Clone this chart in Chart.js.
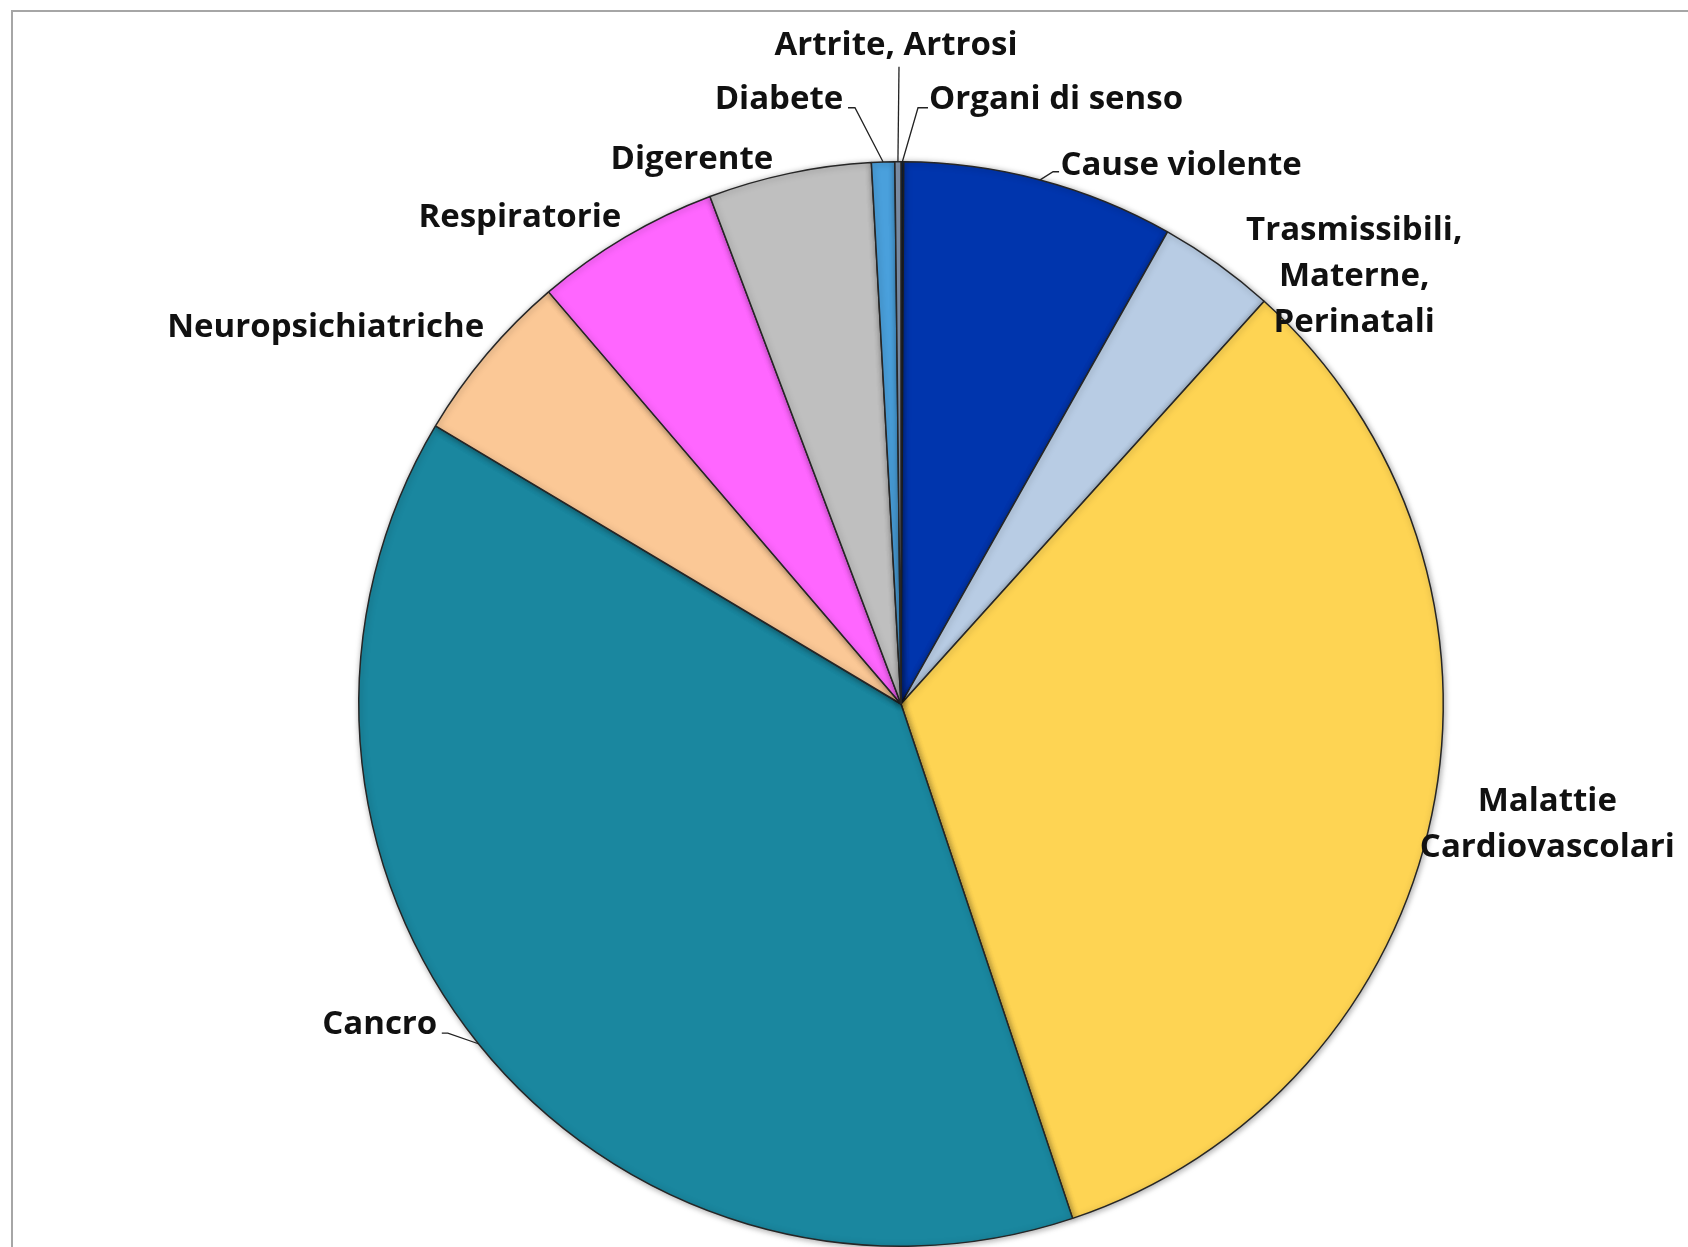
<!DOCTYPE html>
<html lang="it">
<head>
  <meta charset="UTF-8" />
  <title>Cause di morte</title>
  <script src="https://cdn.jsdelivr.net/npm/chart.js"></script>
  <style>
    html, body {
      margin: 0;
      padding: 0;
      background: #ffffff;
      overflow: hidden;
    }

    #frame {
      position: absolute;
      left: 11px;
      top: 10px;
      width: 1720px;
      height: 1300px;
      border-left: 2px solid #a6a6a6;
      border-top: 2px solid #a6a6a6;
      box-sizing: border-box;
    }

    #chart {
      position: absolute;
      left: 0;
      top: 0;
    }
  </style>
</head>
<body>
  <div id="frame"></div>
  <canvas id="chart" width="1688" height="1260"></canvas>

  <script>
    // Dati (percentuali, in senso orario da ore 12)
    const categorie = [
      'Organi di senso', 'Cause violente', 'Trasmissibili, Materne, Perinatali',
      'Malattie Cardiovascolari', 'Cancro', 'Neuropsichiatriche',
      'Respiratorie', 'Digerente', 'Diabete', 'Artrite, Artrosi'
    ];
    const valori = [0.08, 8.1, 3.5, 33.2, 38.7, 5.17, 5.53, 4.86, 0.69, 0.18];
    const colori = [
      '#17375e', '#0035ad', '#b8cce4', '#fed453', '#1a879f',
      '#fbc896', '#ff66ff', '#bfbfbf', '#4aa0dc', '#8497b0'
    ];

    // Testo delle etichette (righe)
    const righeEtichette = [
      ['Organi di senso'], ['Cause violente'], ['Trasmissibili,', 'Materne,', 'Perinatali'],
      ['Malattie', 'Cardiovascolari'], ['Cancro'], ['Neuropsichiatriche'],
      ['Respiratorie'], ['Digerente'], ['Diabete'], ['Artrite, Artrosi']
    ];

    // Posizione delle etichette rispetto al centro della torta (px, raggio di riferimento 542)
    const posEtichette = [
      [155, -604], [280, -538], [453, -427], [646, 121], [-521, 320],
      [-575, -376], [-381, -486], [-209, -544], [-122, -604], [-5, -658]
    ];
    // Linee guida: [x0, y0, x1, y1] poi fino al bordo della fetta
    const guide = [
      [27, -596, 17, -596], [158, -532, 152, -532], null, null, [-459, 329, -453, 329],
      null, null, null, [-53, -596, -46, -596], [-2, -637, -2, -637]
    ];

    const RAGGIO_RIF = 542;

    const etichettePlugin = {
      id: 'etichette',
      afterDatasetsDraw(chart) {
        const ctx = chart.ctx;
        const arcs = chart.getDatasetMeta(0).data;
        ctx.save();
        ctx.shadowColor = 'transparent';
        arcs.forEach((arc, i) => {
          const cx = arc.x, cy = arc.y, r = arc.outerRadius;
          const k = r / RAGGIO_RIF;
          const g = guide[i];
          if (g) {
            const mid = (arc.startAngle + arc.endAngle) / 2;
            const ex = cx + Math.cos(mid) * r;
            const ey = cy + Math.sin(mid) * r;
            ctx.beginPath();
            ctx.moveTo(cx + g[0] * k, cy + g[1] * k);
            ctx.lineTo(cx + g[2] * k, cy + g[3] * k);
            ctx.lineTo(ex, ey);
            ctx.strokeStyle = '#222';
            ctx.lineWidth = 1.3;
            ctx.stroke();
          }
          const righe = righeEtichette[i];
          const lh = 46;
          const tx = cx + posEtichette[i][0] * k;
          const ty = cy + posEtichette[i][1] * k - (righe.length - 1) * lh / 2;
          ctx.font = 'bold 33px "Open Sans", sans-serif';
          ctx.fillStyle = '#111';
          ctx.textAlign = 'center';
          ctx.textBaseline = 'middle';
          righe.forEach((t, j) => ctx.fillText(t, tx, ty + j * lh));
        });
        ctx.restore();
      }
    };

    const ombraPlugin = {
      id: 'ombra',
      beforeDatasetsDraw(chart) {
        const ctx = chart.ctx;
        ctx.save();
        ctx.shadowColor = 'rgba(0, 0, 0, 0.35)';
        ctx.shadowBlur = 6;
        ctx.shadowOffsetX = 1;
        ctx.shadowOffsetY = 1;
      },
      afterDatasetsDraw(chart) {
        chart.ctx.restore();
      }
    };

    new Chart(document.getElementById('chart').getContext('2d'), {
      type: 'pie',
      data: {
        labels: categorie,
        datasets: [{
          data: valori,
          backgroundColor: colori,
          borderColor: '#262626',
          borderWidth: 1.5
        }]
      },
      options: {
        responsive: false,
        animation: false,
        layout: {
          padding: { left: 358, top: 161, right: 244, bottom: 13 }
        },
        plugins: {
          legend: { display: false },
          tooltip: { enabled: false }
        }
      },
      plugins: [ombraPlugin, etichettePlugin]
    });
  </script>
</body>
</html>
